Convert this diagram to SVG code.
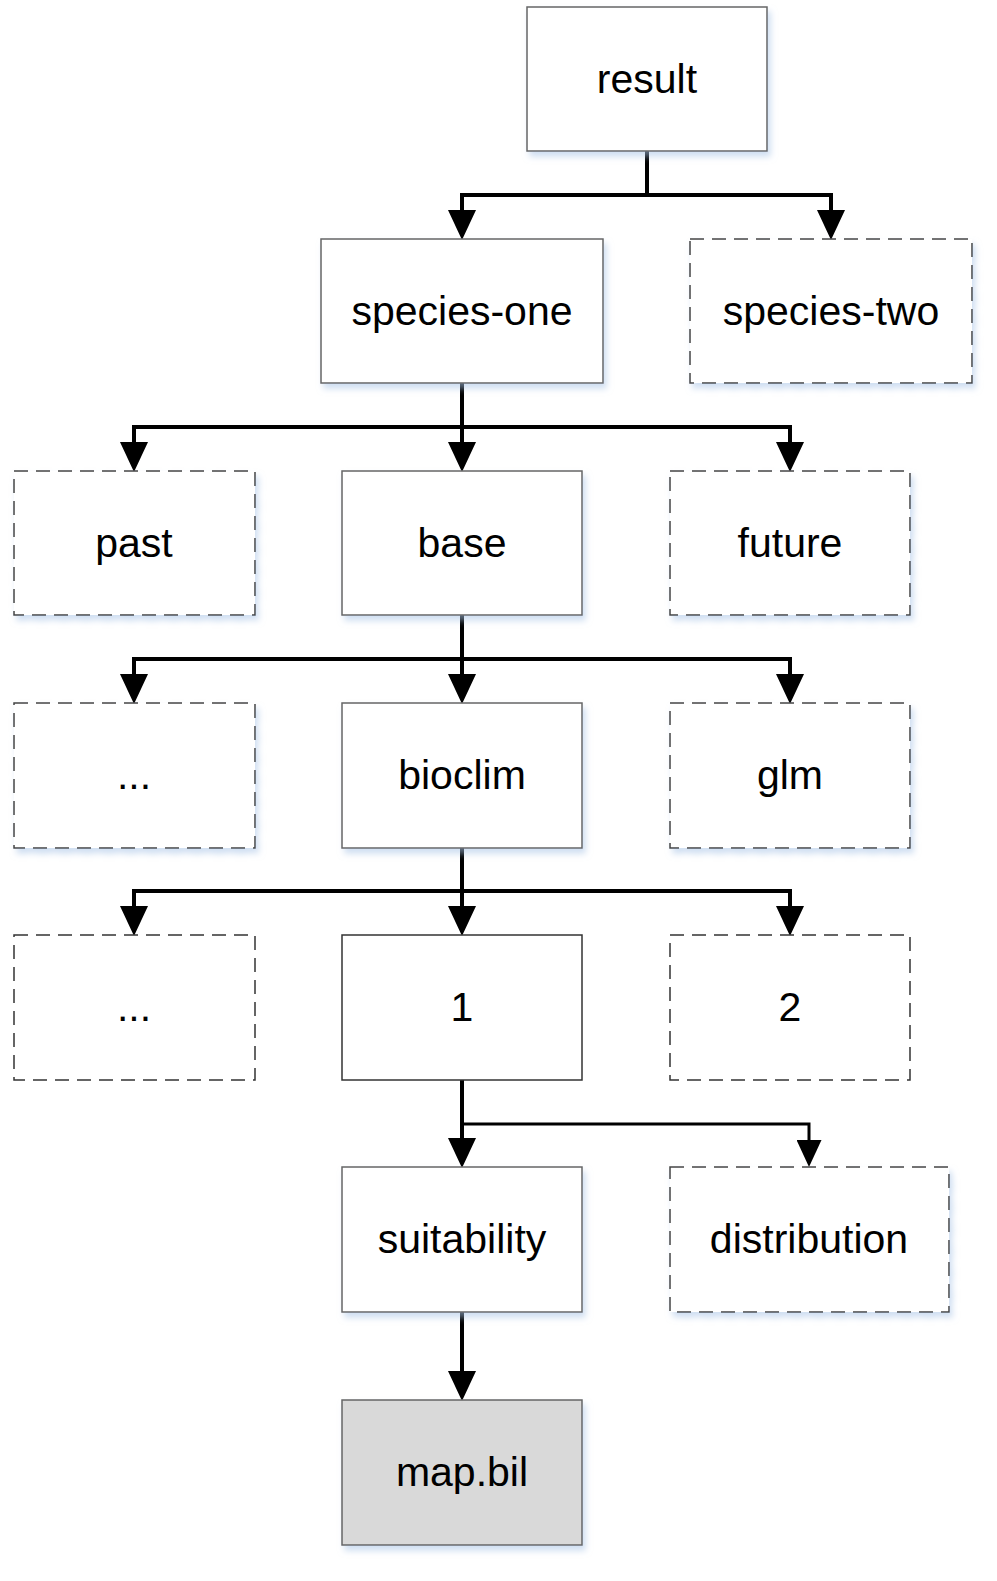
<svg xmlns="http://www.w3.org/2000/svg" width="997" height="1581" viewBox="0 0 997 1581">
<defs>
<filter id="sh" x="-10%" y="-10%" width="125%" height="130%">
<feDropShadow dx="3" dy="5" stdDeviation="3" flood-color="#a9c4e6" flood-opacity="0.55"/>
</filter>
<marker id="ah" markerUnits="userSpaceOnUse" markerWidth="30" markerHeight="28" refX="1" refY="14" orient="auto">
<path d="M0,0 L30,14 L0,28 Z" fill="#000"/>
</marker>
<marker id="ahs" markerUnits="userSpaceOnUse" markerWidth="27" markerHeight="25" refX="1" refY="12.5" orient="auto">
<path d="M0,0 L27,12.5 L0,25 Z" fill="#000"/>
</marker>
</defs>
<style>
.box{fill:#fff;stroke:#666;stroke-width:1.5;filter:url(#sh)}
.dash{stroke-dasharray:14 8;stroke:#444}
.plain{fill:#fff;stroke:#333;stroke-width:1.5}
.grey{fill:#d9d9d9}
.lbl{font-family:"Liberation Sans",Arial,sans-serif;font-size:41px;fill:#000;text-anchor:middle}
.con{fill:none;stroke:#000;stroke-width:4}
.con.thin{stroke-width:3}
</style>
<g id="connectors">
<path class="con" d="M647,151 V195"/>
<path class="con" d="M462,195 H831"/>
<path class="con" d="M462,193 V211" marker-end="url(#ah)"/>
<path class="con" d="M831,193 V211" marker-end="url(#ah)"/>
<path class="con" d="M462,383 V443" marker-end="url(#ah)"/>
<path class="con" d="M134,427 H790"/>
<path class="con" d="M134,425 V443" marker-end="url(#ah)"/>
<path class="con" d="M790,425 V443" marker-end="url(#ah)"/>
<path class="con" d="M462,615 V675" marker-end="url(#ah)"/>
<path class="con" d="M134,659 H790"/>
<path class="con" d="M134,657 V675" marker-end="url(#ah)"/>
<path class="con" d="M790,657 V675" marker-end="url(#ah)"/>
<path class="con" d="M462,848 V907" marker-end="url(#ah)"/>
<path class="con" d="M134,891 H790"/>
<path class="con" d="M134,889 V907" marker-end="url(#ah)"/>
<path class="con" d="M790,889 V907" marker-end="url(#ah)"/>
<path class="con" d="M462,1080 V1139" marker-end="url(#ah)"/>
<path class="con thin" d="M462,1124 H809 V1141" marker-end="url(#ahs)"/>
<path class="con" d="M462,1312 V1372" marker-end="url(#ah)"/>
</g>
<g id="result"><rect class="box" x="527" y="7" width="240" height="144"/><text class="lbl" x="647" y="93">result</text></g>
<g id="species-one"><rect class="box" x="321" y="239" width="282" height="144"/><text class="lbl" x="462" y="325">species-one</text></g>
<g id="species-two"><rect class="box dash" x="690" y="239" width="282" height="144"/><text class="lbl" x="831" y="325">species-two</text></g>
<g id="past"><rect class="box dash" x="14" y="471" width="241" height="144"/><text class="lbl" x="134" y="557">past</text></g>
<g id="base"><rect class="box" x="342" y="471" width="240" height="144"/><text class="lbl" x="462" y="557">base</text></g>
<g id="future"><rect class="box dash" x="670" y="471" width="240" height="144"/><text class="lbl" x="790" y="557">future</text></g>
<g id="etc1"><rect class="box dash" x="14" y="703" width="241" height="145"/><text class="lbl" x="134" y="789">...</text></g>
<g id="bioclim"><rect class="box" x="342" y="703" width="240" height="145"/><text class="lbl" x="462" y="789">bioclim</text></g>
<g id="glm"><rect class="box dash" x="670" y="703" width="240" height="145"/><text class="lbl" x="790" y="789">glm</text></g>
<g id="etc2"><rect class="plain dash" x="14" y="935" width="241" height="145"/><text class="lbl" x="134" y="1021">...</text></g>
<g id="run1"><rect class="plain" x="342" y="935" width="240" height="145"/><text class="lbl" x="462" y="1021">1</text></g>
<g id="run2"><rect class="plain dash" x="670" y="935" width="240" height="145"/><text class="lbl" x="790" y="1021">2</text></g>
<g id="suitability"><rect class="box" x="342" y="1167" width="240" height="145"/><text class="lbl" x="462" y="1253">suitability</text></g>
<g id="distribution"><rect class="box dash" x="670" y="1167" width="279" height="145"/><text class="lbl" x="809" y="1253">distribution</text></g>
<g id="map"><rect class="box grey" x="342" y="1400" width="240" height="145"/><text class="lbl" x="462" y="1486">map.bil</text></g>
</svg>
